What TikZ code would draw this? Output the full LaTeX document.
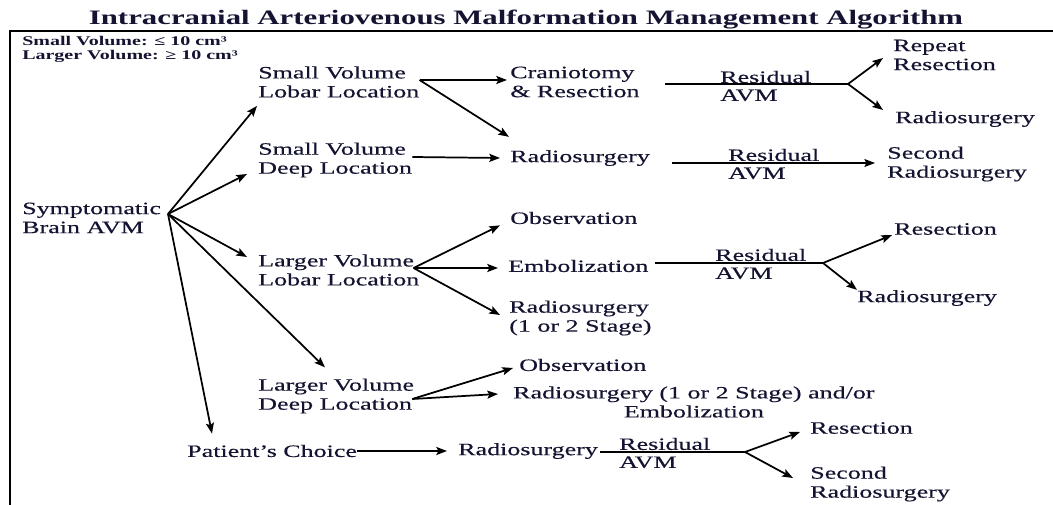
\documentclass[tikz,border=0pt]{standalone}
\usepackage{fontspec}
\setmainfont{Liberation Serif}[FakeStretch=1.5, UprightFeatures={FakeBold=0.4}]
\usetikzlibrary{positioning,arrows.meta,calc}
\definecolor{txt}{RGB}{20,20,50}

\begin{document}
\begin{tikzpicture}[
    x=0.75pt, y=-0.75pt,
    label/.style={anchor=west, inner sep=0pt, align=left, text=txt, font=\fontsize{13}{14.25}\selectfont},
    resid/.style={anchor=west, inner sep=0pt, align=left, text=txt, font=\fontsize{13}{13.5}\selectfont},
    flow/.style={-{Stealth[length=8pt,width=6pt,inset=1.5pt]}, line width=1.3pt},
    plain/.style={line width=0.9pt}
]
\useasboundingbox (0,0) rectangle (1053,505);

% Title, legend and frame
\node[inner sep=0pt, text=txt, font=\fontsize{15.4}{17}\selectfont\bfseries] (title) at (526,20) {Intracranial Arteriovenous Malformation Management Algorithm};
\node[label, font=\fontsize{10}{10.5}\selectfont\bfseries] (legend) at (22,49) {Small Volume: ≤ 10 cm³\\Larger Volume: ≥ 10 cm³};
\draw[line width=2pt] (10,505) -- (10,31) -- (1053,31);

% First level
\node[label] (sym) at (22,218) {Symptomatic\\Brain AVM};
\node[label] (svl) at (258,82) {Small Volume\\Lobar Location};
\node[label] (sdl) at (258,160) {Small Volume\\Deep Location};
\node[label] (lvl) at (258,270) {Larger Volume\\Lobar Location};
\node[label] (lvd) at (258,396) {Larger Volume\\Deep Location};
\node[label] (pc) at (187,451) {Patient's Choice};

% Treatments
\node[label] (cr) at (510,82) {Craniotomy\\\& Resection};
\node[label] (rs1) at (510,158) {Radiosurgery};
\node[label] (ob1) at (510,218) {Observation};
\node[label] (em1) at (508,266) {Embolization};
\node[label] (rs3) at (509,318) {Radiosurgery\\(1 or 2 Stage)};
\node[label] (ob2) at (519,365) {Observation};
\node[label, align=center] (rs5) at (513,402) {Radiosurgery (1 or 2 Stage) and/or\\Embolization};
\node[label] (rs6) at (458,451) {Radiosurgery};

% Residual AVM
\node[resid] (res1) at (720,86) {Residual\\AVM};
\node[resid] (res2) at (728,164) {Residual\\AVM};
\node[resid] (res3) at (715,264) {Residual\\AVM};
\node[resid] (res4) at (619,453) {Residual\\AVM};

% Follow-up
\node[label] (rr) at (893,55) {Repeat\\Resection};
\node[label] (rs2) at (895,119) {Radiosurgery};
\node[label] (sr1) at (887,164) {Second\\Radiosurgery};
\node[label] (re1) at (894,229) {Resection};
\node[label] (rs4) at (857,298) {Radiosurgery};
\node[label] (re2) at (810,428) {Resection};
\node[label] (sr2) at (810,484) {Second\\Radiosurgery};

% Branch points
\coordinate (symout) at (168,214);
\coordinate (svlout) at ($(svl.east)+(0,-2)$);
\coordinate (lvlout) at ($(lvl.east)+(-6,-2)$);
\coordinate (lvdout) at ($(lvd.east)+(-2,3)$);
\coordinate (r1a) at (665,84);
\coordinate (sp1) at (848,84);
\coordinate (r2a) at (672,163);
\coordinate (r3a) at (655,263);
\coordinate (sp3) at (823,263);
\coordinate (r4a) at (600,452);
\coordinate (sp4) at (745,452);

% Arrows
\draw[flow] (symout) -- ($(svl.south west)+(-1,8)$);
\draw[flow] (symout) -- ($(sdl.west)+(-11,14)$);
\draw[flow] (symout) -- ($(lvl.west)+(-11,-13)$);
\draw[flow] (symout) -- ($(lvd.north west)+(67,-11)$);
\draw[flow] (symout) -- ($(pc.north west)+(25,-11)$);

\draw[flow] (svlout) -- ($(cr.west)+(-3,-2)$);
\draw[flow] (svlout) -- ($(rs1.north west)+(-1,-13)$);
\draw[flow] ($(sdl.east)+(0,-3)$) -- ($(rs1.west)+(-10,0)$);

\draw[flow] (lvlout) -- ($(ob1.south west)+(-10,1)$);
\draw[flow] (lvlout) -- ($(em1.west)+(-10,2)$);
\draw[flow] (lvlout) -- ($(rs3.west)+(-9,-3)$);

\draw[flow] (lvdout) -- ($(ob2.west)+(-6,3)$);
\draw[flow] (lvdout) -- ($(rs5.west)+(-15,-8)$);

\draw[flow] (pc.east) -- ($(rs6.west)+(-11,0)$);

\draw[plain] (r1a) -- (sp1);
\draw[flow] (sp1) -- ($(rr.west)+(-10,3)$);
\draw[flow] (sp1) -- ($(rs2.west)+(-12,-9)$);

\draw[flow, line width=0.9pt] (r2a) -- ($(sr1.west)+(-12,-1)$);

\draw[plain] (r3a) -- (sp3);
\draw[flow] (sp3) -- ($(re1.south west)+(-2,0)$);
\draw[flow] (sp3) -- (rs4.north west);

\draw[plain] (r4a) -- (sp4);
\draw[flow] (sp4) -- ($(re2.west)+(-10,4)$);
\draw[flow] (sp4) -- ($(sr2.west)+(-17,-6)$);

\end{tikzpicture}
\end{document}
